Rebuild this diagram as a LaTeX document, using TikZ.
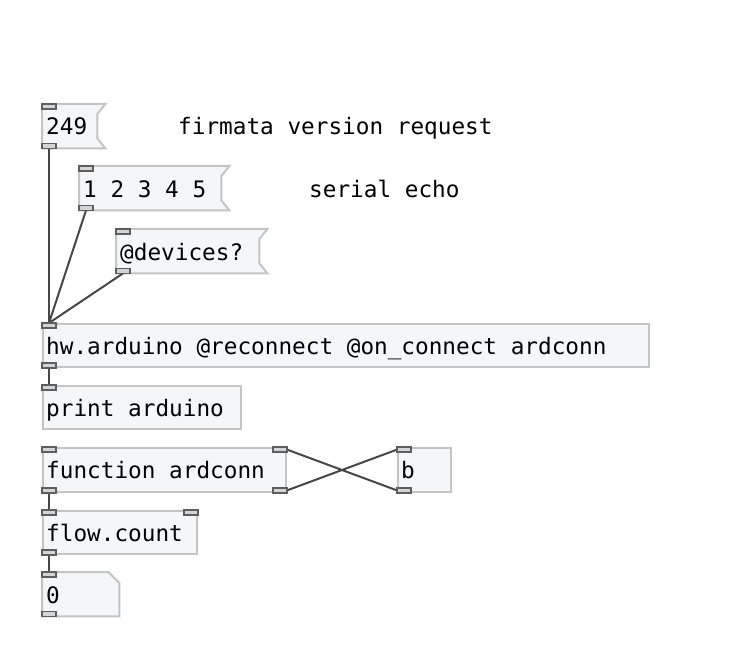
\documentclass[tikz,border=0pt]{standalone}
\usepackage{fontspec}
\newfontfamily\pdmono{DejaVu Sans Mono}
\usetikzlibrary{calc}
\definecolor{boxfill}{HTML}{F5F6F8}
\definecolor{boxline}{HTML}{C4C4C4}
\definecolor{ioline}{HTML}{5E5E5E}
\definecolor{iofill}{HTML}{D4D4D4}
\definecolor{wire}{HTML}{474747}
\tikzset{
  pdbox/.style={draw=boxline, fill=boxfill, line width=2pt, inner sep=0pt, anchor=north west},
  pdbare/.style={inner sep=0pt, anchor=north west},
  pdtxt/.style={font=\pdmono\fontsize{22.7}{27}\selectfont, inner sep=0pt, anchor=base west, text=black},
  pdflag/.style={draw=boxline, fill=boxfill, line width=2pt, line join=miter},
  pdio/.style={draw=ioline, fill=iofill, line width=1.3pt},
  pdwire/.style={draw=wire, line width=2pt},
}
\begin{document}
\begin{tikzpicture}[x=1pt,y=-1pt]
\useasboundingbox (0,0) rectangle (753,650);

% message boxes (flag shape)
\node[pdbare, minimum width=55pt, minimum height=44pt] (m249) at (42,104) {};
\node[pdbare, minimum width=142pt, minimum height=44pt] (m123) at (79,166) {};
\node[pdbare, minimum width=143pt, minimum height=44pt] (mdev) at (116,229) {};
\foreach \m in {m249,m123,mdev}{
  \path[pdflag] (\m.north west) -- ($(\m.north east)+(8,0)$) -- ($(\m.north east)+(0,10)$)
     -- ($(\m.south east)+(0,-10)$) -- ($(\m.south east)+(8,0)$) -- (\m.south west) -- cycle;
}
% object boxes
\node[pdbox, minimum width=606pt, minimum height=43pt] (hw) at (42,323) {};
\node[pdbox, minimum width=198pt, minimum height=43pt] (prn) at (42,385) {};
\node[pdbox, minimum width=243pt, minimum height=44pt] (fn) at (42,447) {};
\node[pdbox, minimum width=53pt, minimum height=44pt] (bb) at (397,447) {};
\node[pdbox, minimum width=154pt, minimum height=43pt] (fc) at (42,510) {};
% float atom
\node[pdbare, minimum width=77pt, minimum height=44pt] (fl) at (42,572) {};
\path[pdflag] (fl.north west) -- ($(fl.north east)+(-11,0)$) -- ($(fl.north east)+(0,11)$)
   -- (fl.south east) -- (fl.south west) -- cycle;

% texts
\node[pdtxt] (t249) at ($(m249.north west)+(4,31)$) {249};
\node[pdtxt] (t123) at ($(m123.north west)+(4,31)$) {1 2 3 4 5};
\node[pdtxt] (tdev) at ($(mdev.north west)+(4,31)$) {@devices?};
\node[pdtxt] (thw) at ($(hw.north west)+(4,31)$) {hw.arduino @reconnect @on\_connect ardconn};
\node[pdtxt] (tprn) at ($(prn.north west)+(4,31)$) {print arduino};
\node[pdtxt] (tfn) at ($(fn.north west)+(4,31)$) {function ardconn};
\node[pdtxt] (tbb) at ($(bb.north west)+(4,31)$) {b};
\node[pdtxt] (tfc) at ($(fc.north west)+(4,31)$) {flow.count};
\node[pdtxt] (tfl) at ($(fl.north west)+(4,31)$) {0};
\node[pdtxt] (c1) at (178,135) {firmata version request};
\node[pdtxt] (c2) at (309,197) {serial echo};

% wires
\draw[pdwire] ($(m249.south west)+(7,0)$) -- ($(hw.north west)+(7,0)$);
\draw[pdwire] ($(m123.south west)+(7,0)$) -- ($(hw.north west)+(7,0)$);
\draw[pdwire] ($(mdev.south west)+(7,0)$) -- ($(hw.north west)+(7,0)$);
\draw[pdwire] ($(hw.south west)+(7,0)$) -- ($(prn.north west)+(7,0)$);
\draw[pdwire] ($(fn.south west)+(7,0)$) -- ($(fc.north west)+(7,0)$);
\draw[pdwire] ($(fn.south east)+(-7,0)$) -- ($(bb.north west)+(7,0)$);
\draw[pdwire] ($(bb.south west)+(7,0)$) -- ($(fn.north east)+(-7,0)$);
\draw[pdwire] ($(fc.south west)+(7,0)$) -- ($(fl.north west)+(7,0)$);

% inlets
\foreach \n in {m249,m123,mdev,hw,prn,fn,bb,fc,fl}{
  \path[pdio] (\n.north west) rectangle ($(\n.north west)+(14,5)$);
}
% outlets
\foreach \n in {m249,m123,mdev,hw,fn,bb,fc,fl}{
  \path[pdio] ($(\n.south west)+(0,-5)$) rectangle ($(\n.south west)+(14,0)$);
}
\path[pdio] ($(fn.north east)+(-14,0)$) rectangle ($(fn.north east)+(0,5)$);
\path[pdio] ($(fn.south east)+(-14,-5)$) rectangle (fn.south east);
\path[pdio] ($(fc.north east)+(-14,0)$) rectangle ($(fc.north east)+(0,5)$);
\end{tikzpicture}
\end{document}
